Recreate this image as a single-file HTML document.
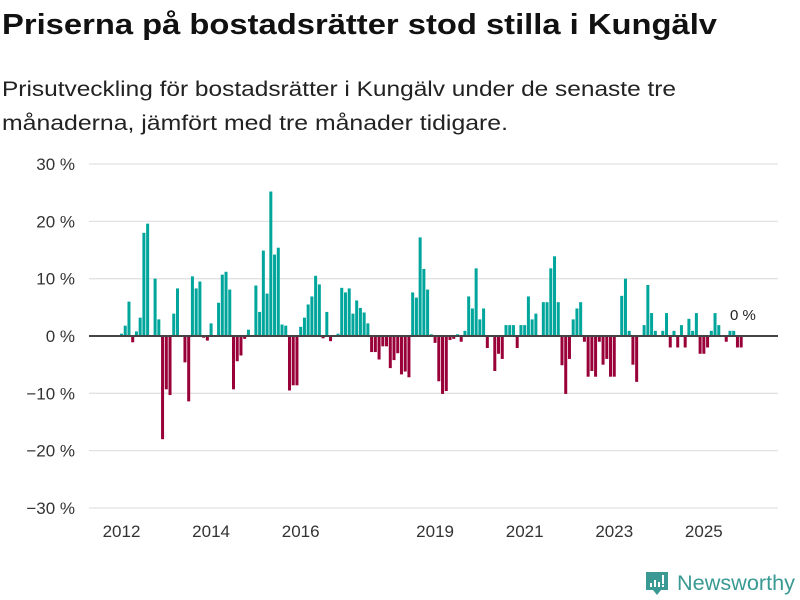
<!DOCTYPE html>
<html><head><meta charset="utf-8"><style>
body{margin:0;background:#fff;}
svg{display:block;font-family:"Liberation Sans","DejaVu Sans",sans-serif;}
</style></head><body>
<svg id="chart" width="800" height="600" viewBox="0 0 800 600">
<text x="2" y="34" font-size="29" font-weight="bold" fill="#111" textLength="715" lengthAdjust="spacingAndGlyphs">Priserna på bostadsrätter stod stilla i Kungälv</text>
<text x="2" y="96" font-size="21" fill="#222" textLength="674" lengthAdjust="spacingAndGlyphs">Prisutveckling för bostadsrätter i Kungälv under de senaste tre</text>
<text x="2" y="130" font-size="21" fill="#222" textLength="506" lengthAdjust="spacingAndGlyphs">månaderna, jämfört med tre månader tidigare.</text>
<g id="grid"></g>
<g id="bars"></g>
<g id="xaxis"></g>
<text x="730" y="320" font-size="15" fill="#222">0 %</text>
<g>
<path d="M646 572 h22 v18 h-7 l-4 5 l-4 -5 h-7 z" fill="#3a9a93"/>
<rect x="650" y="583" width="2" height="4" fill="#fff"/><rect x="654" y="580" width="2" height="7" fill="#fff"/><rect x="658" y="582" width="2" height="5" fill="#fff"/><rect x="662" y="575" width="2" height="9" fill="#fff"/><rect x="662" y="585" width="2" height="2" fill="#fff"/>
<text x="677" y="590" font-size="21" fill="#3a9a93" textLength="118" lengthAdjust="spacingAndGlyphs">Newsworthy</text>
</g>
</svg>
<script>
const values = [0.4,1.8,6.0,-1.1,0.8,3.2,18.0,19.6,0,10.0,2.9,-18.0,-9.3,-10.3,3.9,8.3,0,-4.6,-11.4,10.4,
8.3,9.5,-0.3,-0.8,2.2,0,5.8,10.7,11.2,8.1,-9.3,-4.4,-3.4,-0.5,1.1,0,8.8,4.2,14.9,7.4,
25.2,14.2,15.4,2.0,1.8,-9.5,-8.6,-8.6,1.6,3.2,5.5,6.9,10.5,9.0,-0.4,4.2,-0.9,0,0.4,8.4,
7.6,8.3,3.9,6.2,4.9,4.1,2.2,-2.8,-2.8,-4.1,-1.8,-1.8,-5.6,-4.2,-3.0,-6.7,-6.2,-7.2,7.6,6.7,
17.2,11.7,8.1,0.3,-1.2,-7.9,-10.1,-9.6,-0.7,-0.5,0.3,-1.0,0.9,6.9,4.8,11.8,2.9,4.8,-2.1,0,
-6.1,-3.1,-4.0,1.9,1.9,1.9,-2.1,1.9,1.9,6.9,2.9,3.9,0,5.9,5.9,11.8,13.9,5.9,-5.1,-10.1,
-4.0,2.9,4.8,5.9,-1.0,-7.1,-6.1,-7.1,-1.0,-5.0,-4.0,-7.1,-7.1,0,7.0,10.0,0.9,-5.0,-8.0,0,
1.9,8.9,4.0,0.9,0,0.9,4.0,-2.0,0.9,-2.0,1.9,-2.0,3.0,0.9,4.0,-3.1,-3.1,-2.0,0.9,4.0,
1.9,0,-1.0,0.9,0.9,-2.0,-2.0];
const startYear = 2012;
const yTicks = [30,20,10,0,-10,-20,-30];
const yTickLabels = ["30 %","20 %","10 %","0 %","−10 %","−20 %","−30 %"];
const xTickYears = [2012,2014,2016,2019,2021,2023,2025];

const NS="http://www.w3.org/2000/svg";
const y = v => 336 - v*5.733;
const x = i => 121.5 + i*3.733;
const grid=document.getElementById('grid'), bars=document.getElementById('bars'), xa=document.getElementById('xaxis');
function mk(tag,attrs,parent){const e=document.createElementNS(NS,tag);for(const k in attrs)e.setAttribute(k,attrs[k]);parent.appendChild(e);return e;}
yTicks.forEach((t,k)=>{
  if(t!==0){const l=mk('line',{x1:89,x2:778,y1:y(t),y2:y(t),stroke:'#e2e2e2','stroke-width':1.3},grid);
  
  }
  const tx=mk('text',{x:75,y:y(t)+6,'font-size':17,fill:'#333','text-anchor':'end'},grid);
  tx.textContent=yTickLabels[k];
  
  
});
values.forEach((v,i)=>{
  if(v===0)return;
  const top=Math.min(y(v),y(0)), h=Math.abs(y(v)-y(0));
  const r=mk('rect',{x:x(i)-1.5,y:top,width:3,height:h,fill:v>0?'#00a69c':'#990038'},bars);
  
  
});
const base=mk('line',{x1:89,x2:778,y1:y(0),y2:y(0),stroke:'#444','stroke-width':2},xa);


xTickYears.forEach(yr=>{
  const i=(yr-startYear)*12;
  const t=mk('text',{x:x(i),y:537,'font-size':17,fill:'#333','text-anchor':'middle'},xa);
  t.textContent=yr;
  
  
});
</script>
</body></html>
